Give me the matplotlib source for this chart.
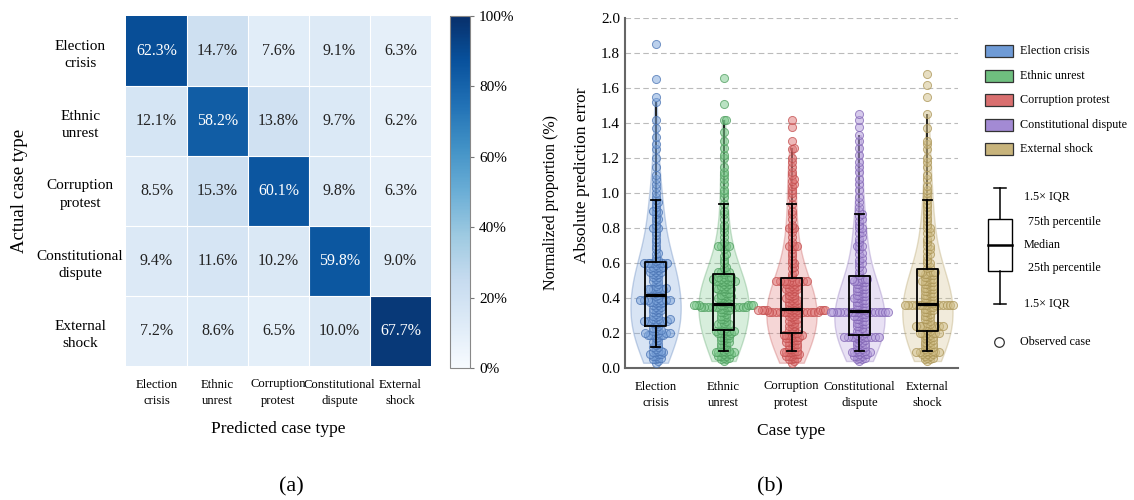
import numpy as np
import matplotlib
matplotlib.use("Agg")
import matplotlib.pyplot as plt
from matplotlib.colors import Normalize, to_rgba
from matplotlib.patches import Rectangle
import matplotlib.cm as cm

plt.rcParams["font.family"] = ["Liberation Serif", "DejaVu Serif"]

# ---- data ----
cm_rows = ["Election\ncrisis", "Ethnic\nunrest", "Corruption\nprotest", "Constitutional\ndispute", "External\nshock"]
cm_cols = ["Election\ncrisis", "Ethnic\nunrest", "Corruption\nprotest", "Constitutional\ndispute", "External\nshock"]
cm_values = [
    [62.3, 14.7, 7.6, 9.1, 6.3],
    [12.1, 58.2, 13.8, 9.7, 6.2],
    [8.5, 15.3, 60.1, 9.8, 6.3],
    [9.4, 11.6, 10.2, 59.8, 9.0],
    [7.2, 8.6, 6.5, 10.0, 67.7],
]
cbar_ticks = [0, 20, 40, 60, 80, 100]

case_types = ["Election crisis", "Ethnic unrest", "Corruption protest", "Constitutional dispute", "External shock"]
case_ticklabels = ["Election\ncrisis", "Ethnic\nunrest", "Corruption\nprotest", "Constitutional\ndispute", "External\nshock"]

err_election = [
    0.03, 0.04, 0.05, 0.05, 0.06, 0.06, 0.07, 0.07, 0.08, 0.08, 0.08, 0.09, 0.09, 0.09,
    0.10, 0.10, 0.11, 0.12, 0.12, 0.13, 0.14, 0.15, 0.15, 0.16, 0.17, 0.18, 0.19, 0.19, 0.19,
    0.19, 0.19, 0.19, 0.20, 0.20, 0.20, 0.20, 0.21, 0.21, 0.22, 0.22,
    0.23, 0.23, 0.24, 0.25, 0.26, 0.26, 0.27, 0.27, 0.27, 0.27, 0.27, 0.27, 0.27, 0.28, 0.28,
    0.28, 0.29, 0.30, 0.30, 0.31, 0.32, 0.32, 0.33, 0.33, 0.34, 0.34, 0.35, 0.35, 0.36, 0.36,
    0.37, 0.37, 0.38, 0.38, 0.38, 0.38, 0.39, 0.39, 0.39, 0.39, 0.39, 0.39, 0.39,
    0.40, 0.41, 0.42, 0.43, 0.44, 0.45, 0.45, 0.45, 0.45, 0.45, 0.45, 0.46, 0.46, 0.47, 0.48,
    0.49, 0.50, 0.50, 0.51, 0.52, 0.52, 0.53, 0.54, 0.54, 0.55, 0.55, 0.55, 0.56, 0.56, 0.57,
    0.57, 0.57, 0.58, 0.58, 0.58,
    0.59, 0.60, 0.60, 0.60, 0.60, 0.60, 0.60, 0.60, 0.60, 0.61, 0.62, 0.63, 0.65, 0.66, 0.68,
    0.70, 0.72, 0.74, 0.76, 0.78, 0.80, 0.80, 0.80, 0.82, 0.84, 0.85, 0.86, 0.88, 0.89, 0.90,
    0.90, 0.92, 0.94, 0.95, 0.96,
    0.98, 1.00, 1.03, 1.05, 1.08, 1.10, 1.15, 1.20, 1.25, 1.28, 1.32, 1.37, 1.42, 1.52, 1.55,
    1.65, 1.85,
]
err_ethnic = [
    0.04, 0.05, 0.05, 0.06, 0.06, 0.07, 0.07, 0.07, 0.08, 0.08, 0.08, 0.09, 0.09, 0.09, 0.09, 0.09,
    0.10, 0.10, 0.11, 0.12, 0.12, 0.13, 0.14, 0.14, 0.15, 0.15, 0.16, 0.16, 0.17, 0.17, 0.18,
    0.18, 0.19, 0.19, 0.20, 0.20, 0.20, 0.20, 0.21, 0.21, 0.21, 0.21,
    0.22, 0.22, 0.23, 0.24, 0.25, 0.25, 0.25, 0.25, 0.26, 0.27, 0.28, 0.28, 0.29, 0.30, 0.30,
    0.31, 0.32, 0.32, 0.33, 0.33, 0.34, 0.34,
    0.35, 0.35, 0.35, 0.35, 0.35, 0.35, 0.35, 0.35, 0.35, 0.35, 0.35, 0.35, 0.35,
    0.36, 0.36, 0.36, 0.36, 0.36, 0.36, 0.36, 0.36,
    0.37, 0.37, 0.38, 0.38, 0.39, 0.40, 0.40, 0.40, 0.40, 0.41, 0.41, 0.42, 0.42, 0.43, 0.43,
    0.44, 0.45, 0.45, 0.45, 0.45, 0.45, 0.46, 0.46, 0.47, 0.47, 0.48, 0.48, 0.49, 0.49, 0.50,
    0.50, 0.50, 0.50, 0.50, 0.50, 0.51, 0.51, 0.51, 0.52, 0.52, 0.52, 0.52,
    0.54, 0.55, 0.55, 0.55, 0.55, 0.57, 0.58, 0.60, 0.62, 0.64, 0.65, 0.68, 0.70, 0.70, 0.70,
    0.70, 0.70, 0.72, 0.75, 0.78, 0.80, 0.82, 0.85, 0.88, 0.90, 0.94,
    0.98, 1.00, 1.02, 1.05, 1.08, 1.10, 1.12, 1.15, 1.20, 1.22, 1.26, 1.30, 1.35, 1.42, 1.42,
    1.51, 1.66,
]
err_corruption = [
    0.03, 0.04, 0.05, 0.05, 0.06, 0.06, 0.07, 0.07, 0.07, 0.08, 0.08, 0.08, 0.09, 0.09, 0.09, 0.09,
    0.10, 0.10, 0.11, 0.11, 0.12, 0.12, 0.13, 0.13, 0.14, 0.14, 0.15, 0.15, 0.15, 0.16, 0.16,
    0.17, 0.17, 0.17, 0.18, 0.18, 0.18, 0.19, 0.19, 0.19, 0.19, 0.19,
    0.20, 0.20, 0.21, 0.22, 0.22, 0.23, 0.24, 0.24, 0.25, 0.25, 0.26, 0.27, 0.27, 0.28, 0.28,
    0.29, 0.30, 0.30, 0.31, 0.31,
    0.32, 0.32, 0.32, 0.32, 0.32, 0.32, 0.32, 0.32, 0.32, 0.32, 0.32, 0.32, 0.32, 0.32,
    0.33, 0.33, 0.33, 0.33, 0.33, 0.33, 0.33, 0.33, 0.33,
    0.34, 0.34, 0.35, 0.35, 0.36, 0.36, 0.37, 0.37, 0.38, 0.38, 0.39, 0.39, 0.40, 0.40, 0.40,
    0.41, 0.42, 0.42, 0.43, 0.44, 0.44, 0.45, 0.45, 0.45, 0.46, 0.46, 0.47, 0.47, 0.48, 0.48,
    0.48, 0.49, 0.49, 0.50, 0.50, 0.50, 0.50, 0.50, 0.50, 0.50, 0.50, 0.50,
    0.52, 0.54, 0.55, 0.57, 0.58, 0.60, 0.60, 0.62, 0.64, 0.66, 0.68, 0.70, 0.70, 0.70, 0.70,
    0.72, 0.75, 0.78, 0.80, 0.80, 0.80, 0.82, 0.85, 0.88, 0.90, 0.94,
    0.98, 1.00, 1.02, 1.04, 1.05, 1.07, 1.08, 1.10, 1.12, 1.15, 1.18, 1.20, 1.25, 1.26, 1.30,
    1.38, 1.42,
]
err_constitutional = [
    0.04, 0.05, 0.05, 0.06, 0.06, 0.07, 0.07, 0.07, 0.08, 0.08, 0.08, 0.09, 0.09, 0.09, 0.09, 0.09,
    0.10, 0.10, 0.11, 0.11, 0.12, 0.12, 0.13, 0.13, 0.14, 0.14, 0.15, 0.15, 0.16, 0.16, 0.17, 0.17,
    0.18, 0.18, 0.18, 0.18, 0.18, 0.18, 0.18, 0.18, 0.18, 0.18,
    0.19, 0.19, 0.20, 0.20, 0.21, 0.21, 0.22, 0.22, 0.23, 0.24, 0.24, 0.25, 0.25, 0.26, 0.26,
    0.27, 0.27, 0.28, 0.28, 0.29, 0.29, 0.30, 0.30, 0.30, 0.31, 0.31,
    0.32, 0.32, 0.32, 0.32, 0.32, 0.32, 0.32, 0.32, 0.32, 0.32, 0.32, 0.32, 0.32, 0.32, 0.32,
    0.32, 0.32,
    0.33, 0.33, 0.34, 0.34, 0.35, 0.35, 0.36, 0.36, 0.37, 0.37, 0.38, 0.38, 0.39, 0.39, 0.40,
    0.40, 0.40, 0.41, 0.41, 0.42, 0.42, 0.43, 0.43, 0.44, 0.44, 0.45, 0.45, 0.46, 0.46, 0.47,
    0.47, 0.48, 0.48, 0.49, 0.49, 0.50, 0.50, 0.50, 0.51, 0.51, 0.51, 0.51,
    0.53, 0.55, 0.56, 0.58, 0.60, 0.60, 0.62, 0.63, 0.65, 0.66, 0.68, 0.70, 0.70, 0.70, 0.72,
    0.74, 0.75, 0.77, 0.78, 0.80, 0.80, 0.82, 0.84, 0.85, 0.87, 0.88,
    0.90, 0.92, 0.95, 0.98, 1.02, 1.05, 1.08, 1.12, 1.15, 1.18, 1.22, 1.26, 1.30, 1.33, 1.38,
    1.42, 1.45,
]
err_external = [
    0.04, 0.05, 0.05, 0.06, 0.06, 0.07, 0.07, 0.08, 0.08, 0.08, 0.09, 0.09, 0.09, 0.09, 0.09, 0.09,
    0.10, 0.10, 0.11, 0.11, 0.12, 0.12, 0.13, 0.13, 0.14, 0.14, 0.15, 0.15, 0.16, 0.16, 0.17,
    0.17, 0.18, 0.18, 0.19, 0.19, 0.20, 0.20, 0.20, 0.20, 0.20, 0.20,
    0.21, 0.22, 0.23, 0.24, 0.24, 0.24, 0.24, 0.24, 0.24, 0.24, 0.24, 0.24, 0.25, 0.26, 0.27,
    0.28, 0.28, 0.29, 0.30, 0.30, 0.31, 0.32, 0.32, 0.33, 0.33, 0.34, 0.34, 0.35, 0.35,
    0.36, 0.36, 0.36, 0.36, 0.36, 0.36, 0.36, 0.36, 0.36, 0.36, 0.36, 0.36, 0.36, 0.36,
    0.37, 0.37, 0.38, 0.38, 0.39, 0.39, 0.40, 0.40, 0.41, 0.41, 0.42, 0.42, 0.43, 0.43, 0.44,
    0.44, 0.45, 0.45, 0.46, 0.46, 0.47, 0.47, 0.48, 0.48, 0.49, 0.49, 0.50, 0.50, 0.50, 0.51,
    0.51, 0.52, 0.52, 0.53, 0.53, 0.54, 0.54, 0.55, 0.55, 0.55, 0.55, 0.55,
    0.57, 0.58, 0.60, 0.60, 0.62, 0.64, 0.65, 0.67, 0.68, 0.70, 0.70, 0.72, 0.74, 0.75, 0.77,
    0.78, 0.80, 0.80, 0.82, 0.84, 0.86, 0.88, 0.90, 0.92, 0.94, 0.96,
    0.98, 1.00, 1.02, 1.04, 1.08, 1.10, 1.15, 1.18, 1.20, 1.25, 1.28, 1.30, 1.37, 1.45, 1.55,
    1.62, 1.68,
]
errors = [err_election, err_ethnic, err_corruption, err_constitutional, err_external]

face_colors = ["#7ea6dc", "#7cc98c", "#e07a7a", "#b39ddb", "#d2c08a"]
edge_colors = ["#4a74b4", "#4f9e5f", "#c44e4e", "#8265b5", "#ab9556"]
legend_colors = ["#6f9bd6", "#6fbf7f", "#d96f6f", "#a38ad4", "#c8b47c"]


def swarm_offsets(values, px_x, px_y, radius):
    # simple beeswarm: each point takes the nearest free horizontal slot
    order = np.argsort(values, kind="stable")
    placed = []
    offsets = np.zeros(len(values))
    step = radius * 0.5
    for idx in order:
        y = values[idx] * px_y
        for n in range(200):
            cand = 0.0 if n == 0 else ((n + 1) // 2) * step * (1 if n % 2 else -1)
            ok = True
            for (px, py) in placed:
                if abs(py - y) < radius and (px - cand) ** 2 + (py - y) ** 2 < radius ** 2:
                    ok = False
                    break
            if ok:
                break
        placed.append((cand, y))
        offsets[idx] = cand / px_x
    return offsets


fig = plt.figure(figsize=(11.34, 5.0), dpi=100)

# ---- (a) confusion matrix ----
ax1 = fig.add_axes([126 / 1134, 1 - 366 / 500, 305 / 1134, 350 / 500])
vals = np.array(cm_values)
ax1.imshow(vals, cmap="Blues", vmin=0, vmax=vals.max() * 1.04, aspect="auto")
for i in range(len(cm_rows)):
    for j in range(len(cm_cols)):
        v = vals[i, j]
        ax1.text(j, i, f"{v:.1f}%", ha="center", va="center", fontsize=11.5,
                 color="white" if v > 40 else "#222222")
for k in range(1, len(cm_rows)):
    ax1.axhline(k - 0.5, color="white", lw=0.8)
    ax1.axvline(k - 0.5, color="white", lw=0.8)
ax1.set_xticks(range(len(cm_cols)))
ax1.set_xticklabels(cm_cols, fontsize=9.1, linespacing=1.5)
ax1.set_yticks(range(len(cm_rows)))
ax1.set_yticklabels(cm_rows, fontsize=11, ha="center", linespacing=1.45)
ax1.tick_params(axis="y", pad=33, length=0)
ax1.tick_params(axis="x", length=0, pad=9)
for s in ax1.spines.values():
    s.set_visible(False)
ax1.set_xlabel("Predicted case type", fontsize=12.5, labelpad=10)
ax1.set_ylabel("Actual case type", fontsize=13.5)
ax1.yaxis.set_label_coords((28 - 126) / 305, 0.5)

cax = fig.add_axes([450 / 1134, 1 - 368 / 500, 20 / 1134, 352 / 500])
sm = cm.ScalarMappable(norm=Normalize(0, 100), cmap="Blues")
cb = fig.colorbar(sm, cax=cax)
cb.set_ticks(cbar_ticks)
cb.set_ticklabels([f"{t}%" for t in cbar_ticks])
cb.ax.tick_params(labelsize=11, length=3, color="#777777", width=0.8)
cb.outline.set_edgecolor("#888888")
cb.outline.set_linewidth(0.8)
cb.set_label("Normalized proportion (%)", fontsize=11.5)
cb.ax.yaxis.set_label_coords((543 - 450) / 20, 0.47)

# ---- (b) violin + box + points ----
ax2 = fig.add_axes([625 / 1134, 1 - 368 / 500, 333 / 1134, 350 / 500])
positions = np.arange(len(case_types))
px_per_x = 333 / 4.9
px_per_y = 350 / 2.0
for i, data in enumerate(errors):
    d = np.asarray(data)
    core = d[d <= np.quantile(d, 0.985)]
    parts = ax2.violinplot([core], positions=[i], widths=0.74, showextrema=True,
                           bw_method=0.5)
    for body in parts["bodies"]:
        body.set_facecolor(to_rgba(face_colors[i], 0.14))
        body.set_edgecolor(to_rgba(edge_colors[i], 1.0))
        body.set_linewidth(1.0)
        body.set_zorder(1)
    parts["cbars"].set_color("black")
    parts["cbars"].set_linewidth(1.2)
    parts["cbars"].set_zorder(2)
    parts["cmins"].set_visible(False)
    parts["cmaxes"].set_visible(False)

    xs = swarm_offsets(d, px_per_x, px_per_y, 2.6)
    ax2.scatter(i + xs, d, s=34, facecolor=to_rgba(face_colors[i], 0.52),
                edgecolor=to_rgba(edge_colors[i], 0.75), linewidth=0.7, zorder=3)

ax2.boxplot(errors, positions=positions, widths=0.3, whis=(10, 90), showfliers=False,
            manage_ticks=False, capwidths=0.13,
            boxprops=dict(color="black", linewidth=1.3),
            whiskerprops=dict(color="black", linewidth=1.3),
            capprops=dict(color="black", linewidth=1.3),
            medianprops=dict(color="black", linewidth=2.3),
            zorder=4)

ax2.set_xlim(-0.45, 4.45)
ax2.set_ylim(0, 2.0)
ax2.set_yticks(np.arange(0, 2.01, 0.2))
ax2.set_yticklabels([f"{t:.1f}" for t in np.arange(0, 2.01, 0.2)], fontsize=11)
ax2.set_xticks(positions)
ax2.set_xticklabels(case_ticklabels, fontsize=9.1, linespacing=1.5)
ax2.tick_params(axis="both", length=0)
ax2.tick_params(axis="x", pad=9)
ax2.grid(axis="y", linestyle=(0, (5, 3)), color="#bbbbbb", linewidth=0.8)
ax2.set_axisbelow(True)
for s in ["top", "right"]:
    ax2.spines[s].set_visible(False)
for s in ["left", "bottom"]:
    ax2.spines[s].set_color("#666666")
    ax2.spines[s].set_linewidth(1.5)
ax2.set_xlabel("Case type", fontsize=12.5, labelpad=10)
ax2.set_ylabel("Absolute prediction error", fontsize=12.5)
ax2.yaxis.set_label_coords((590 - 625) / 333, 0.55)

# ---- legend panel (pixel coordinates of the figure) ----
lax = fig.add_axes([970 / 1134, 1 - 370 / 500, 164 / 1134, 350 / 500])
lax.set_xlim(970, 1134)
lax.set_ylim(370, 20)
lax.axis("off")
for k, name in enumerate(case_types):
    yc = 51 + 24.6 * k
    lax.add_patch(Rectangle((985, yc - 6), 28, 12, facecolor=legend_colors[k],
                            edgecolor="#333333", linewidth=0.9))
    lax.text(1020, yc, name, fontsize=8.7, va="center", ha="left")

bx = 1000
lax.plot([bx, bx], [188, 219], color="black", lw=1.1)
lax.plot([bx, bx], [271, 304], color="black", lw=1.1)
lax.plot([bx - 6, bx + 6], [188, 188], color="black", lw=1.1)
lax.plot([bx - 6, bx + 6], [304, 304], color="black", lw=1.1)
lax.add_patch(Rectangle((988, 219), 24, 52, facecolor="white", edgecolor="black", lw=1.0))
lax.plot([988, 1012], [245, 245], color="black", lw=1.8)
lax.text(1024, 197, "1.5× IQR", fontsize=8.7, va="center")
lax.text(1028, 222, "75th percentile", fontsize=8.7, va="center")
lax.text(1024, 245, "Median", fontsize=8.7, va="center")
lax.text(1028, 268, "25th percentile", fontsize=8.7, va="center")
lax.text(1024, 304, "1.5× IQR", fontsize=8.7, va="center")
lax.scatter([999], [342], s=48, facecolor="white", edgecolor="#333333", linewidth=0.9)
lax.text(1020, 342, "Observed case", fontsize=8.7, va="center")

fig.text(291 / 1134, 1 - 487 / 500, "(a)", fontsize=16, ha="center", va="center")
fig.text(770 / 1134, 1 - 487 / 500, "(b)", fontsize=16, ha="center", va="center")

fig.savefig("out.png", dpi=100, facecolor="white")
